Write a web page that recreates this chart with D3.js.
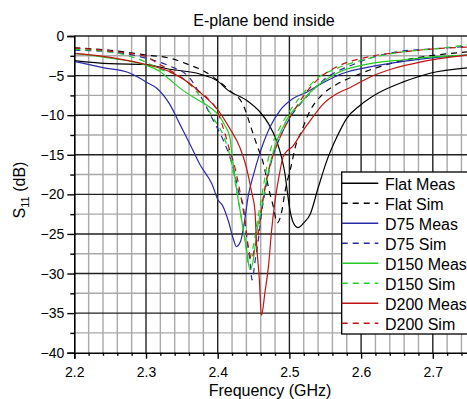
<!DOCTYPE html>
<html>
<head>
<meta charset="utf-8">
<script src="https://cdn.jsdelivr.net/npm/d3@7/dist/d3.min.js"></script>
<style>
  html, body { margin: 0; padding: 0; background: #fff; }
  svg { display: block; font-family: Arial, "Liberation Sans", sans-serif; }
</style>
</head>
<body>
<svg id="chart" width="467" height="399"></svg>
<script>
// S11 return loss of the E-plane bend (inside), measured vs simulated

const xTicks = [2.2, 2.3, 2.4, 2.5, 2.6, 2.7];
const yTicks = [0, -5, -10, -15, -20, -25, -30, -35, -40];

const flatMeasF = [2.2, 2.25, 2.3, 2.333, 2.375, 2.4, 2.415, 2.44, 2.459, 2.471, 2.482, 2.489, 2.494, 2.497, 2.501, 2.505, 2.512, 2.52, 2.529, 2.54, 2.552, 2.566, 2.58, 2.598, 2.622, 2.659, 2.696, 2.75];
const flatMeasS = [-3.1, -3.5, -3.6, -4.2, -4.8, -5.7, -6.9, -8.1, -9.6, -11.1, -13.2, -15.3, -17.5, -19.6, -22.1, -23.5, -24.2, -23.6, -22.5, -19.2, -15.8, -12.8, -10.4, -8.8, -7.3, -5.8, -4.7, -4.0];

const flatSimF = [2.2, 2.25, 2.3, 2.333, 2.359, 2.378, 2.4, 2.417, 2.436, 2.447, 2.454, 2.464, 2.471, 2.478, 2.483, 2.489, 2.494, 2.503, 2.508, 2.517, 2.529, 2.545, 2.566, 2.587, 2.612, 2.658, 2.705, 2.75];
const flatSimS = [-1.5, -1.8, -2.4, -2.8, -3.6, -4.3, -5.6, -6.9, -8.8, -11.7, -13.6, -16.2, -19.2, -21.7, -23.6, -22.3, -19.6, -16.2, -14.1, -12.0, -9.4, -7.5, -6.1, -5.2, -4.3, -3.1, -2.4, -2.0];

const d75MeasF = [2.2, 2.24, 2.278, 2.3, 2.315, 2.333, 2.347, 2.361, 2.375, 2.392, 2.401, 2.406, 2.415, 2.422, 2.426, 2.432, 2.436, 2.443, 2.45, 2.457, 2.465, 2.473, 2.487, 2.505, 2.524, 2.547, 2.575, 2.612, 2.659, 2.705, 2.75];
const d75MeasS = [-3.2, -4.0, -4.7, -5.8, -6.6, -8.6, -11.1, -13.6, -16.2, -18.7, -20.8, -21.3, -23.4, -25.7, -26.6, -25.9, -24.2, -20.0, -17.5, -15.3, -13.2, -11.5, -9.4, -7.9, -7.1, -5.9, -4.7, -3.9, -3.2, -2.7, -2.4];

const d75SimF = [2.2, 2.25, 2.3, 2.333, 2.361, 2.382, 2.394, 2.408, 2.417, 2.424, 2.429, 2.436, 2.44, 2.445, 2.448, 2.452, 2.457, 2.461, 2.468, 2.475, 2.482, 2.491, 2.501, 2.515, 2.529, 2.547, 2.589, 2.65, 2.705, 2.75];
const d75SimS = [-1.8, -2.0, -2.8, -3.8, -5.3, -8.6, -10.7, -13.2, -15.3, -17.5, -19.6, -21.7, -25.1, -28.5, -30.8, -28.5, -25.5, -22.5, -18.7, -15.8, -13.9, -12.0, -10.3, -8.6, -7.2, -5.6, -3.6, -2.0, -1.6, -1.3];

const d150MeasF = [2.2, 2.25, 2.3, 2.32, 2.333, 2.352, 2.371, 2.389, 2.403, 2.41, 2.417, 2.42, 2.426, 2.433, 2.44, 2.445, 2.45, 2.454, 2.461, 2.466, 2.473, 2.48, 2.49, 2.501, 2.515, 2.529, 2.566, 2.612, 2.659, 2.705, 2.75];
const d150MeasS = [-2.2, -2.8, -3.7, -4.5, -5.5, -6.9, -8.0, -9.0, -10.2, -11.3, -12.8, -15.0, -19.2, -23.0, -26.8, -29.5, -28.1, -25.1, -21.7, -19.2, -16.2, -13.9, -11.7, -9.9, -8.5, -7.1, -4.7, -3.5, -3.0, -2.6, -2.4];

const d150SimF = [2.2, 2.25, 2.275, 2.3, 2.317, 2.352, 2.371, 2.382, 2.394, 2.408, 2.417, 2.424, 2.431, 2.438, 2.443, 2.446, 2.451, 2.455, 2.459, 2.466, 2.471, 2.478, 2.487, 2.501, 2.517, 2.538, 2.566, 2.612, 2.659, 2.705, 2.75];
const d150SimS = [-1.7, -2.0, -2.5, -3.3, -4.1, -5.4, -7.1, -8.6, -10.4, -12.6, -15.1, -18.3, -21.9, -25.7, -28.7, -27.8, -25.9, -23.6, -21.5, -17.8, -15.3, -13.2, -11.5, -9.4, -7.5, -5.4, -4.1, -2.8, -2.0, -1.6, -1.1];

const d200MeasF = [2.2, 2.25, 2.3, 2.333, 2.361, 2.38, 2.399, 2.417, 2.431, 2.44, 2.447, 2.452, 2.454, 2.458, 2.461, 2.466, 2.471, 2.475, 2.48, 2.487, 2.491, 2.495, 2.505, 2.515, 2.529, 2.547, 2.566, 2.585, 2.612, 2.645, 2.682, 2.75];
const d200MeasS = [-2.2, -2.7, -3.6, -4.5, -6.0, -7.5, -9.2, -11.7, -14.1, -16.6, -19.6, -22.1, -25.9, -30.6, -35.3, -32.3, -28.9, -24.7, -20.8, -17.0, -15.3, -14.7, -13.9, -12.5, -10.7, -8.6, -7.3, -6.5, -5.2, -4.1, -3.3, -2.4];

const d200SimF = [2.2, 2.25, 2.3, 2.317, 2.333, 2.352, 2.368, 2.385, 2.399, 2.408, 2.417, 2.424, 2.429, 2.438, 2.443, 2.447, 2.451, 2.457, 2.463, 2.471, 2.478, 2.487, 2.496, 2.508, 2.522, 2.543, 2.566, 2.612, 2.659, 2.705, 2.75];
const d200SimS = [-1.5, -1.9, -2.6, -3.5, -4.3, -5.4, -6.6, -7.8, -9.4, -11.7, -14.5, -16.6, -18.7, -23.4, -26.8, -28.2, -27.0, -24.7, -20.8, -17.0, -14.9, -12.8, -11.1, -9.2, -7.3, -5.2, -3.9, -2.6, -2.0, -1.6, -1.4];

const seriesNames = ["Flat Meas", "Flat Sim", "D75 Meas", "D75 Sim", "D150 Meas", "D150 Sim", "D200 Meas", "D200 Sim"];

const BLACK = "#000000", BLUE = "#2a2aa8", GREEN = "#22cc22", RED = "#c01414";
const series = [
  { name: seriesNames[0], f: flatMeasF, s: flatMeasS, color: BLACK, dash: null },
  { name: seriesNames[1], f: flatSimF, s: flatSimS, color: BLACK, dash: "6,5" },
  { name: seriesNames[2], f: d75MeasF, s: d75MeasS, color: BLUE, dash: null },
  { name: seriesNames[3], f: d75SimF, s: d75SimS, color: BLUE, dash: "6,5" },
  { name: seriesNames[4], f: d150MeasF, s: d150MeasS, color: GREEN, dash: null },
  { name: seriesNames[5], f: d150SimF, s: d150SimS, color: GREEN, dash: "6,5" },
  { name: seriesNames[6], f: d200MeasF, s: d200MeasS, color: RED, dash: null },
  { name: seriesNames[7], f: d200SimF, s: d200SimS, color: RED, dash: "6,5" }
];

const svg = d3.select("#chart");
const plotLeft = 74.3, plotTop = 36, plotBottom = 352.7;
const pxPerTenth = 71.7;

const x = d3.scaleLinear().domain([2.2, 2.75]).range([plotLeft, plotLeft + 5.5 * pxPerTenth]);
const y = d3.scaleLinear().domain([-40, 0]).range([plotBottom, plotTop]);

const plotRight = x(2.75);

// minor and major grid
const xMinor = d3.range(2.2, 2.7501, 0.02).filter(v => Math.abs(Math.round(v * 10) - v * 10) > 1e-6);
const yMinor = d3.range(-37.5, 0, 5);

const grid = svg.append("g");
grid.selectAll("line.vminor").data(xMinor).join("line")
  .attr("x1", d => x(d)).attr("x2", d => x(d)).attr("y1", plotTop).attr("y2", plotBottom)
  .attr("stroke", "#a9a9a9").attr("stroke-width", 1.4);
grid.selectAll("line.hminor").data(yMinor).join("line")
  .attr("x1", plotLeft).attr("x2", plotRight).attr("y1", d => y(d)).attr("y2", d => y(d))
  .attr("stroke", "#a9a9a9").attr("stroke-width", 1.4);
grid.selectAll("line.vmajor").data(xTicks.slice(1)).join("line")
  .attr("x1", d => x(d)).attr("x2", d => x(d)).attr("y1", plotTop).attr("y2", plotBottom)
  .attr("stroke", "#222").attr("stroke-width", 1.4);
grid.selectAll("line.hmajor").data(yTicks.slice(0, -1)).join("line")
  .attr("x1", plotLeft).attr("x2", plotRight).attr("y1", d => y(d)).attr("y2", d => y(d))
  .attr("stroke", "#222").attr("stroke-width", 1.4);

// curves
const line = d3.line().x(d => x(d[0])).y(d => y(d[1])).curve(d3.curveMonotoneX);
const curves = svg.append("g").attr("fill", "none");
series.forEach(sr => {
  const pts = sr.f.map((f, i) => [f, sr.s[i]]);
  curves.append("path")
    .attr("d", line(pts))
    .attr("stroke", sr.color)
    .attr("stroke-width", 1.2)
    .attr("stroke-dasharray", sr.dash);
});

// axes
const xAxis = svg.append("g").attr("transform", `translate(0,${plotBottom})`)
  .call(d3.axisBottom(x).tickValues(xTicks).tickSize(6).tickPadding(8).tickFormat(d3.format(".1f")));
svg.append("g").attr("transform", `translate(0,${plotBottom})`)
  .call(d3.axisBottom(x).tickValues(xMinor).tickSize(3).tickFormat(""))
  .call(g => g.select(".domain").remove());
const yAxis = svg.append("g").attr("transform", `translate(${plotLeft},0)`)
  .call(d3.axisLeft(y).tickValues(yTicks).tickSize(7).tickPadding(3).tickFormat(d3.format("d")));
svg.append("g").attr("transform", `translate(${plotLeft},0)`)
  .call(d3.axisLeft(y).tickValues(yMinor).tickSize(4).tickFormat(""))
  .call(g => g.select(".domain").remove());

svg.selectAll(".domain").attr("stroke", "#000").attr("stroke-width", 1.6);
svg.selectAll(".tick line").attr("stroke", "#000").attr("stroke-width", 1.4);
xAxis.selectAll("text").attr("font-size", 14).attr("fill", "#000")
  .attr("font-family", "Arial, 'Liberation Sans', sans-serif");
yAxis.selectAll("text").attr("font-size", 14).attr("fill", "#000")
  .attr("font-family", "Arial, 'Liberation Sans', sans-serif");

// titles
svg.append("text").attr("x", 264).attr("y", 26).attr("text-anchor", "middle")
  .attr("font-size", 16).text("E-plane bend inside");

svg.append("text").attr("x", 270).attr("y", 396).attr("text-anchor", "middle")
  .attr("font-size", 16).text("Frequency (GHz)");

const yl = svg.append("text")
  .attr("transform", "translate(25,190) rotate(-90)")
  .attr("text-anchor", "middle").attr("font-size", 16);
yl.append("tspan").text("S");
yl.append("tspan").attr("font-size", 11).attr("dy", 4).text("11");
yl.append("tspan").attr("dy", -4).text(" (dB)");

// legend
const lgX = 341.7, lgY = 172, lgH = 162, rowH = 20;
const legend = svg.append("g");
legend.append("rect").attr("x", lgX).attr("y", lgY).attr("width", 200).attr("height", lgH)
  .attr("fill", "#fff").attr("stroke", "#000").attr("stroke-width", 1.3);
series.forEach((sr, i) => {
  const cy = lgY + 11.3 + i * rowH;
  legend.append("line").attr("x1", lgX).attr("x2", lgX + 36.6).attr("y1", cy).attr("y2", cy)
    .attr("stroke", sr.color).attr("stroke-width", 1.4).attr("stroke-dasharray", sr.dash);
  legend.append("text").attr("x", lgX + 43.3).attr("y", cy + 6.5)
    .attr("font-size", 16).text(sr.name);
});
</script>
</body>
</html>
